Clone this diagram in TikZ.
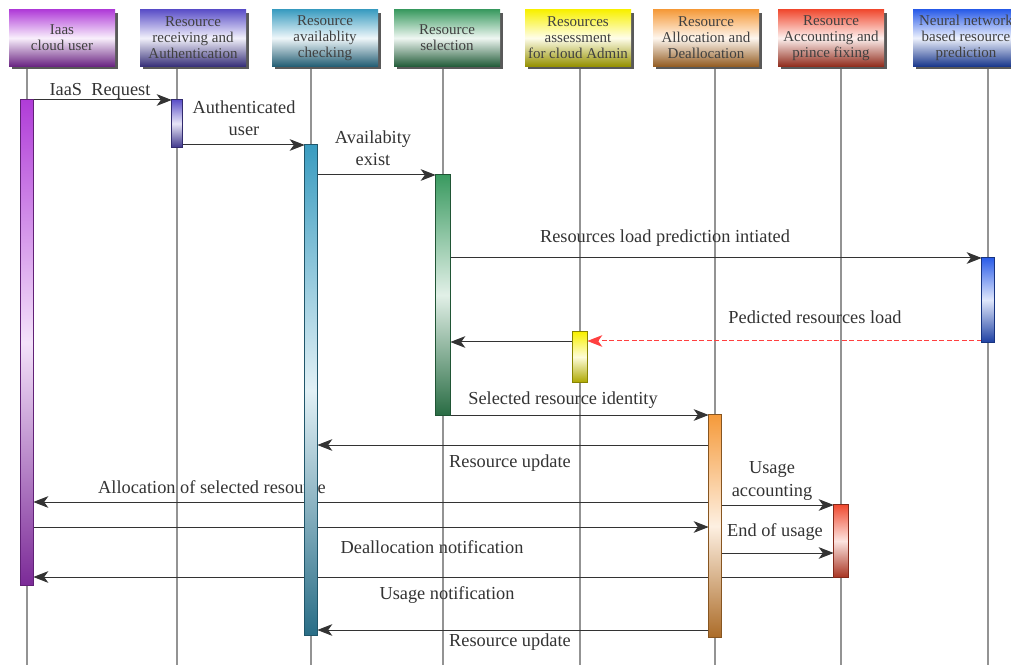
\documentclass[tikz,border=0pt]{standalone}
\usepackage{fontspec}
\setmainfont{Liberation Serif}
\usetikzlibrary{arrows.meta,fit,shadows}

\definecolor{cuser}{HTML}{B03CD8}
\definecolor{cauth}{HTML}{5B4FC8}
\definecolor{cavail}{HTML}{3A9CC0}
\definecolor{csel}{HTML}{3A9A60}
\definecolor{cassess}{HTML}{F8F000}
\definecolor{calloc}{HTML}{F59A3A}
\definecolor{cacct}{HTML}{F04A30}
\definecolor{cnn}{HTML}{2A5CE8}

\tikzset{
  hdr/.style={minimum width=63.6pt, minimum height=34pt, inner sep=1pt, align=center,
    font=\fontsize{9}{9.6}\selectfont, text=black!75,
    top color=#1, bottom color=#1!60!black, middle color=#1!8,
    drop shadow={shadow xshift=1.8pt, shadow yshift=-1.8pt, fill=black!65, opacity=1}},
  bar/.style={inner sep=0pt, draw=#1!55!black, line width=0.3pt,
    top color=#1, bottom color=#1!70!black, middle color=#1!15},
  life/.style={draw=gray!85, line width=0.7pt},
  msg/.style={draw=black!80, line width=0.6pt, -{Stealth[length=9pt,width=7pt,inset=2.5pt]}},
  lbl/.style={font=\fontsize{11}{13.5}\selectfont, text=black!80, align=center}
}

\begin{document}
\begin{tikzpicture}[x=0.6pt,y=-0.6pt]
\useasboundingbox (0,0) rectangle (1011,665);

% LIFELINES
\foreach \n/\x in {user/27,auth/177,avail/311,sel/443,assess/580,alloc/715,acct/841,nn/988}{
  \coordinate (\n top) at (\x,67);
  \coordinate (\n end) at (\x,665);
  \draw[life] (\n top) -- (\n end);
}

% HEADERS
\node[hdr=cuser] (huser) at (62,38) {Iaas\\cloud user};
\node[hdr=cauth] (hauth) at (193,38) {Resource\\receiving and\\Authentication};
\node[hdr=cavail] (havail) at (325,38) {Resource\\availablity\\checking};
\node[hdr=csel] (hsel) at (447,38) {Resource\\selection};
\node[hdr=cassess] (hassess) at (578,38) {Resources\\assessment\\for cloud Admin};
\node[hdr=calloc] (halloc) at (706,38) {Resource\\Allocation and\\Deallocation};
\node[hdr=cacct] (hacct) at (831,38) {Resource\\Accounting and\\prince fixing};
\node[hdr=cnn] (hnn) at (966,38) {Neural network\\based resource\\prediction};

% ACTIVATION BARS (invisible anchors first, shaded later)
\node[inner sep=0pt, fit={(21,100) (33,585)}] (ubar) {};
\node[inner sep=0pt, fit={(172,100) (182,147)}] (abar) {};
\node[inner sep=0pt, fit={(305,145) (317,635)}] (vbar) {};
\node[inner sep=0pt, fit={(436,175) (450,415)}] (sbar) {};
\node[inner sep=0pt, fit={(573,332) (587,382)}] (ybar) {};
\node[inner sep=0pt, fit={(982,258) (994,342)}] (nbar) {};
\node[inner sep=0pt, fit={(709,415) (721,637)}] (obar) {};
\node[inner sep=0pt, fit={(834,505) (848,577)}] (rbar) {};

% MESSAGES
\draw[msg] (ubar.east |- 0,100) -- (abar.west |- 0,100);
\draw[msg] (abar.east |- 0,145) -- (vbar.west |- 0,145);
\draw[msg] (vbar.east |- 0,175) -- (sbar.west |- 0,175);
\draw[msg] (sbar.east |- 0,258) -- (nbar.west |- 0,258);
\draw[msg, draw=red!75, dash pattern=on 3pt off 1.5pt] (nbar.west |- 0,341) -- (ybar.east |- 0,341);
\draw[msg] (ybar.west |- 0,342) -- (sbar.east |- 0,342);
\draw[msg] (sbar.east |- 0,415) -- (obar.west |- 0,415);
\draw[msg] (obar.west |- 0,445) -- (vbar.east |- 0,445);
\draw[msg] (obar.west |- 0,502) -- (ubar.east |- 0,502);
\draw[msg] (obar.east |- 0,505) -- (rbar.west |- 0,505);
\draw[msg] (ubar.east |- 0,527) -- (obar.west |- 0,527);
\draw[msg] (obar.east |- 0,553) -- (rbar.west |- 0,553);
\draw[msg] (rbar.west |- 0,577) -- (ubar.east |- 0,577);
\draw[msg] (obar.west |- 0,630) -- (vbar.east |- 0,630);

% LABELS
\node[lbl] (t1) at (100,91) {IaaS~~Request};
\node[lbl] (t2) at (244,118) {Authenticated\\user};
\node[lbl] (t3) at (373,148) {Availabity\\exist};
\node[lbl] (t4) at (665,238) {Resources load prediction intiated};
\node[lbl] (t5) at (815,317) {Pedicted resources load};
\node[lbl] (t6) at (563,400) {Selected resource identity};
\node[lbl] (t7) at (510,463) {Resource update};
\node[lbl] (t8) at (212,487) {Allocation of selected resource};
\node[lbl] (t9) at (772,481) {Usage\\accounting};
\node[lbl] (t10) at (432,547) {Deallocation notification};
\node[lbl] (t11) at (775,532) {End of usage};
\node[lbl] (t12) at (447,595) {Usage notification};
\node[lbl] (t13) at (510,642) {Resource update};

% SHADED BARS ON TOP
\foreach \b/\c in {ubar/cuser,abar/cauth,vbar/cavail,sbar/csel,ybar/cassess,nbar/cnn,obar/calloc,rbar/cacct}{
  \path[bar=\c] (\b.south west) rectangle (\b.north east);
}
\end{tikzpicture}
\end{document}
